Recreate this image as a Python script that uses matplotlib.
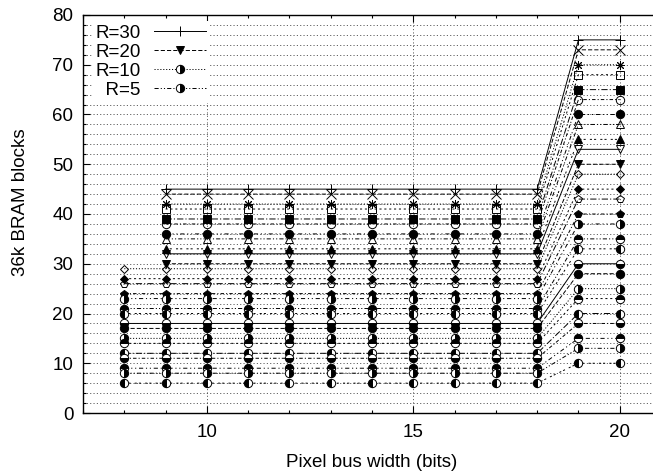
import matplotlib
matplotlib.use("Agg")
import matplotlib.pyplot as plt
from matplotlib.ticker import MultipleLocator

plt.rcParams['font.family'] = ['Liberation Sans', 'DejaVu Sans']
plt.rcParams['font.size'] = 13.5
plt.rcParams['lines.scale_dashes'] = False

# one curve per R, BRAM count is flat up to 18 bits, then jumps
r_values = [30, 29, 28, 27, 26, 25, 24, 23, 22, 21, 20, 19, 18, 17,
            16, 15, 14, 13, 12, 11, 10, 9, 8, 7, 6, 5, 4]
first_width = [9, 9, 9, 9, 9, 9, 9, 9, 9, 9, 9, 8, 8, 8,
               8, 8, 8, 8, 8, 8, 8, 8, 8, 8, 8, 8, 8]
bram_low = [45, 44, 42, 41, 39, 38, 36, 35, 33, 32, 30, 29, 27, 26,
            24, 23, 21, 20, 18, 17, 15, 14, 12, 11, 9, 8, 6]
bram_high = [75, 73, 70, 68, 65, 63, 60, 58, 55, 53, 50, 48, 45, 43,
             40, 38, 35, 33, 30, 28, 25, 23, 20, 18, 15, 13, 10]
bus_widths = [8, 9, 10, 11, 12, 13, 14, 15, 16, 17, 18, 19, 20]
last_low_width = 18
legend_r = [30, 20, 10, 5]

# gnuplot-ish monochrome styles
dash_styles = ['-', (0, (3, 1.5)), (0, (0.8, 1.3)), (0, (1.5, 2)),
               (0, (4.5, 1.5, 0.8, 1.5)), (0, (2.5, 1.5, 0.8, 1.5)),
               (0, (3, 2, 0.8, 2, 0.8, 2)),
               (0, (3, 1.5, 0.8, 1.5, 0.8, 1.5)),
               (0, (1.5, 1.5, 1.5, 3))]
marker_styles = [('+', 'full'), ('x', 'full'), ((8, 2, 0), 'full'),
                 ('s', 'none'), ('s', 'full'), ('o', 'none'), ('o', 'full'),
                 ('^', 'none'), ('^', 'full'), ('v', 'none'), ('v', 'full'),
                 ('D', 'none'), ('D', 'full'), ('p', 'none'), ('p', 'full')]
circle_fills = ['right', 'top', 'left', 'bottom', 'full', 'right', 'top',
                'left', 'bottom', 'top', 'right', 'left']

fig = plt.figure(figsize=(6.53, 4.75), dpi=100)
ax = fig.add_axes([83 / 653, 62 / 475, 578 / 653, 398 / 475])

for i, r in enumerate(r_values):
    xs = [w for w in bus_widths if w >= first_width[i]]
    ys = [bram_low[i] if w <= last_low_width else bram_high[i] for w in xs]
    if i < len(marker_styles):
        mk, fs = marker_styles[i]
    else:
        mk, fs = 'o', circle_fills[i - len(marker_styles)]
    ms = 6
    if mk == 'D':
        ms = 4.5
    if mk in ('+', 'x', (8, 2, 0)):
        ms = 6.5
    ax.plot(xs, ys, color='black', linewidth=0.7,
            linestyle=dash_styles[i % 9], marker=mk, markersize=ms,
            fillstyle=fs, markerfacecoloralt='white', markeredgewidth=0.7,
            markeredgecolor='black', markerfacecolor='black',
            label=(('  ' if r < 10 else '') + 'R=%d' % r) if r in legend_r else None)

ax.set_xlim(7, 21)
ax.set_ylim(0, 80)
ax.xaxis.set_major_locator(MultipleLocator(5))
ax.xaxis.set_minor_locator(MultipleLocator(1))
ax.yaxis.set_major_locator(MultipleLocator(10))
ax.yaxis.set_minor_locator(MultipleLocator(2))
ax.tick_params(which='both', direction='in', top=True, right=True)
ax.tick_params(which='major', length=5, width=0.8, pad=8)
ax.tick_params(which='minor', length=2.5, width=0.8)
ax.tick_params(axis='y', which='major', pad=7)
for s in ax.spines.values():
    s.set_linewidth(1.0)

ax.set_axisbelow(True)
ax.grid(which='major', axis='x', color='0.25', linestyle=(0, (0.8, 1.6)), linewidth=0.6)
ax.grid(which='both', axis='y', color='0.25', linestyle=(0, (0.8, 1.6)), linewidth=0.6)

ax.set_xlabel('Pixel bus width (bits)')
ax.set_ylabel('36k BRAM blocks')
ax.xaxis.set_label_coords(0.5, -0.103)
ax.yaxis.set_label_coords(-0.093, 0.53)

leg = ax.legend(loc='upper left', bbox_to_anchor=(0.015, 0.985), markerfirst=False,
                numpoints=1, handlelength=2.8, handletextpad=0.7,
                labelspacing=0.1, borderpad=0.2, borderaxespad=0,
                frameon=True, fancybox=False, framealpha=1)
leg.get_frame().set_facecolor('white')
leg.get_frame().set_edgecolor('none')

fig.savefig('out.png', dpi=100)
